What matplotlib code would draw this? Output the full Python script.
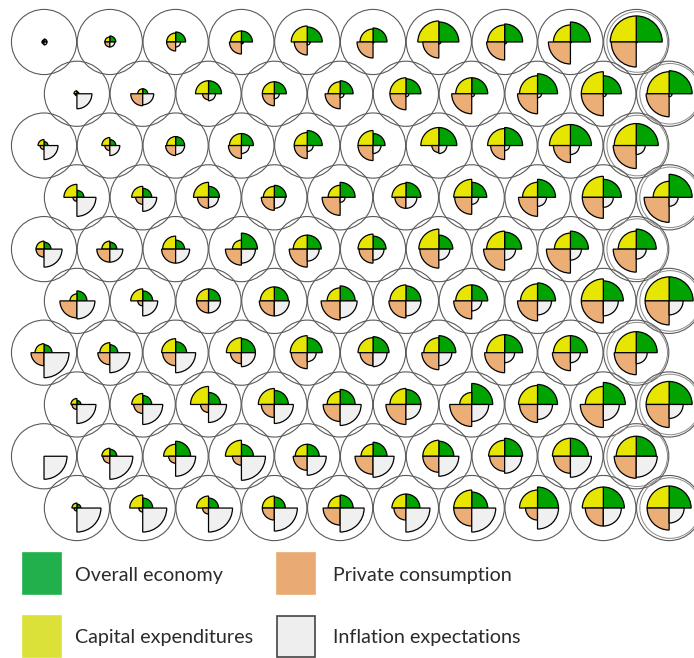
import numpy as np
import matplotlib.pyplot as plt
from matplotlib.patches import Circle, Wedge, Rectangle

# wedge sizes per unit (rows top to bottom, 10 units per row)
overall = [
    [3, 6, 10, 11, 15, 14, 20, 18, 20, 26],
    [2, 5, 13, 12, 13, 15, 16, 20, 18, 23],
    [4, 6, 9, 12, 15, 12, 18, 18, 21, 22],
    [7, 9, 11, 12, 15, 15, 15, 18, 18, 23],
    [7, 7, 9, 16, 14, 13, 14, 17, 18, 20],
    [10, 10, 12, 14, 15, 15, 16, 18, 20, 24],
    [8, 8, 11, 14, 15, 16, 17, 18, 17, 21],
    [4, 9, 12, 14, 15, 15, 21, 20, 22, 23],
    [0, 7, 15, 12, 12, 14, 15, 18, 18, 20],
    [4, 10, 10, 11, 13, 14, 16, 21, 21, 22],
]
capex = [
    [2, 5, 9, 11, 16, 13, 21, 17, 17, 26],
    [3, 5, 13, 12, 12, 16, 16, 18, 22, 22],
    [6, 8, 9, 12, 13, 15, 18, 17, 21, 22],
    [13, 11, 15, 11, 12, 14, 18, 15, 21, 16],
    [8, 8, 13, 9, 14, 15, 20, 18, 16, 18],
    [7, 12, 12, 14, 13, 16, 16, 17, 22, 24],
    [9, 10, 14, 15, 17, 15, 15, 18, 17, 21],
    [6, 11, 18, 16, 13, 16, 12, 19, 18, 23],
    [0, 8, 12, 16, 12, 12, 16, 16, 18, 20],
    [5, 13, 12, 12, 12, 14, 18, 18, 21, 22],
]
consumption = [
    [2, 5, 9, 12, 13, 16, 16, 18, 22, 25],
    [2, 12, 6, 12, 15, 16, 20, 20, 22, 23],
    [4, 5, 10, 13, 13, 15, 7, 14, 17, 23],
    [4, 7, 11, 13, 18, 11, 17, 19, 21, 25],
    [8, 13, 14, 16, 18, 14, 19, 21, 24, 23],
    [17, 5, 12, 15, 19, 17, 18, 20, 22, 24],
    [13, 12, 13, 11, 16, 13, 17, 20, 18, 22],
    [5, 9, 8, 13, 17, 20, 22, 18, 23, 23],
    [0, 7, 7, 9, 14, 18, 16, 15, 17, 22],
    [3, 4, 6, 12, 17, 12, 18, 12, 18, 22],
]
inflation = [
    [3, 5, 5, 2, 3, 1, 2, 2, 1, 1],
    [15, 11, 7, 5, 4, 3, 3, 4, 3, 3],
    [14, 10, 9, 8, 6, 8, 8, 5, 9, 9],
    [19, 14, 10, 11, 5, 11, 7, 9, 10, 9],
    [18, 13, 14, 14, 12, 11, 11, 11, 11, 10],
    [18, 15, 12, 15, 17, 15, 10, 14, 15, 14],
    [25, 20, 20, 14, 9, 14, 13, 10, 10, 11],
    [19, 20, 18, 19, 21, 15, 17, 15, 16, 14],
    [23, 23, 20, 24, 19, 21, 20, 17, 21, 21],
    [24, 24, 24, 23, 24, 24, 24, 21, 18, 15],
]

labels = ["Overall economy", "Capital expenditures",
          "Private consumption", "Inflation expectations"]
wedge_colors = ["#00a300", "#e6e600", "#ebae76", "#f0f0f0"]
legend_colors = ["#21b04b", "#dce13a", "#e9aa73", "#eeeeee"]

series = [overall, capex, consumption, inflation]
n_rows, n_cols = 10, 10
row_step = 0.787
scale = 1 / 65.8   # wedge size -> grid units

fig = plt.figure(figsize=(6.94, 6.58), dpi=100)
ax = fig.add_axes([0, 0, 1, 1])
ax.set_xlim(-0.669, 9.878)
ax.set_ylim(-9.362, 0.638)
ax.axis("off")

for r in range(n_rows):
    for c in range(n_cols):
        cx = c + 0.5 * (r % 2)
        cy = -r * row_step
        ax.add_patch(Circle((cx, cy), 0.495, fill=False, ec="#5a5a5a", lw=0.8))
        if c == n_cols - 1:
            ax.add_patch(Circle((cx + 0.015, cy), 0.46, fill=False, ec="#8a8a8a", lw=0.7))
        for k in range(4):
            v = series[k][r][c]
            if v <= 0:
                continue
            ax.add_patch(Wedge((cx, cy), v * scale, 90 * k, 90 * (k + 1),
                               fc=wedge_colors[k], ec="black", lw=0.9))

# legend
lax = fig.add_axes([0, 0, 1, 110 / 658])
lax.set_xlim(0, 694)
lax.set_ylim(110, 0)
lax.axis("off")
fam = ["Lato", "DejaVu Sans"]
pos = [(23, 5), (23, 68), (277, 5), (277, 68)]
for k in range(4):
    x0, y0 = pos[k]
    ec = "#444444" if k == 3 else legend_colors[k]
    lax.add_patch(Rectangle((x0, y0), 38, 41, fc=legend_colors[k], ec=ec, lw=1.2))
    tx = 75 if k < 2 else 333
    lax.text(tx, y0 + 22, labels[k], fontsize=14.2, family=fam,
             color="#2b2b2b", va="center", ha="left")

fig.savefig("out.png", dpi=100)
